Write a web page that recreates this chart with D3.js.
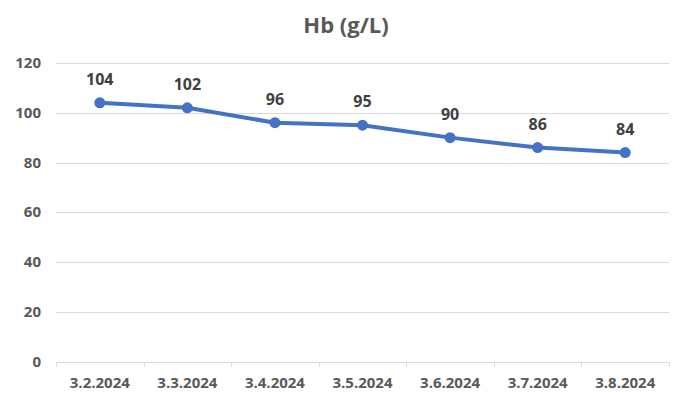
<!DOCTYPE html>
<html lang="en">
<head>
  <meta charset="utf-8">
  <script src="https://cdnjs.cloudflare.com/ajax/libs/d3/7.8.5/d3.min.js"></script>
  <title>Hb (g/L)</title>
  <style>
    body { margin: 0; background: #fff; }
    text { font-family: "Open Sans", "Noto Sans", sans-serif; }
  </style>
</head>
<body>
  <div id="chart"></div>
<script>
  const dates = ["3.2.2024", "3.3.2024", "3.4.2024", "3.5.2024", "3.6.2024", "3.7.2024", "3.8.2024"];
  const hb = [104, 102, 96, 95, 90, 86, 84];
  const yTicks = [0, 20, 40, 60, 80, 100, 120];

  const width = 675, height = 393;
  const margin = {top: 63, right: 6, bottom: 31, left: 56};

  const svg = d3.select("#chart").append("svg").attr("width", width).attr("height", height);

  const x = d3.scaleBand().domain(dates).range([margin.left, width - margin.right]);
  const y = d3.scaleLinear().domain([0, 120]).range([height - margin.bottom - 0.5, margin.top]);

  svg.append("text")
    .attr("x", 346).attr("y", 33)
    .attr("text-anchor", "middle")
    .attr("font-size", "22px").attr("font-weight", "bold")
    .attr("fill", "#595959")
    .text("Hb (g/L)");

  // gridlines
  svg.append("g").selectAll("line")
    .data(yTicks.filter(function(d){ return d > 0; }))
    .enter().append("line")
    .attr("x1", margin.left).attr("x2", width - margin.right)
    .attr("y1", function(d){ return Math.round(y(d)) + 0.5; })
    .attr("y2", function(d){ return Math.round(y(d)) + 0.5; })
    .attr("stroke", "#d9d9d9").attr("stroke-width", 1);

  // y labels
  svg.append("g").selectAll("text")
    .data(yTicks)
    .enter().append("text")
    .attr("x", 41)
    .attr("y", function(d){ return y(d) + 5; })
    .attr("text-anchor", "end")
    .attr("font-size", "15px").attr("font-weight", "bold")
    .attr("fill", "#595959")
    .text(function(d){ return d; });

  // x axis
  const xAxis = d3.axisBottom(x).tickSize(0).tickPadding(15);
  const gx = svg.append("g")
    .attr("transform", "translate(0," + (height - margin.bottom) + ")")
    .call(xAxis);
  gx.select(".domain").attr("stroke", "#d9d9d9");
  gx.selectAll("text")
    .attr("font-size", "15px").attr("font-weight", "bold")
    .attr("fill", "#595959")
    .style("font-family", "'Open Sans', sans-serif");

  const bounds = dates.map(function(d){ return x(d); }).concat([x(dates[dates.length - 1]) + x.bandwidth()]);
  gx.selectAll(".sep")
    .data(bounds)
    .enter().append("line")
    .attr("class", "sep")
    .attr("x1", function(d){ return Math.round(d) + 0.5; })
    .attr("x2", function(d){ return Math.round(d) + 0.5; })
    .attr("y1", 0).attr("y2", 5)
    .attr("stroke", "#d9d9d9");

  const line = d3.line()
    .x(function(d, i){ return x(dates[i]) + x.bandwidth() / 2; })
    .y(function(d){ return y(d); });

  svg.append("path")
    .datum(hb)
    .attr("d", line)
    .attr("fill", "none")
    .attr("stroke", "#4472c4")
    .attr("stroke-width", 4)
    .attr("stroke-linejoin", "round");

  svg.append("g").selectAll("circle")
    .data(hb)
    .enter().append("circle")
    .attr("cx", function(d, i){ return x(dates[i]) + x.bandwidth() / 2; })
    .attr("cy", function(d){ return y(d); })
    .attr("r", 5.5)
    .attr("fill", "#4472c4");

  svg.append("g").selectAll("text")
    .data(hb)
    .enter().append("text")
    .attr("x", function(d, i){ return x(dates[i]) + x.bandwidth() / 2; })
    .attr("y", function(d){ return y(d) - 18; })
    .attr("text-anchor", "middle")
    .attr("font-size", "16px").attr("font-weight", "bold")
    .attr("fill", "#404040")
    .text(function(d){ return d; });
</script>
</body>
</html>
